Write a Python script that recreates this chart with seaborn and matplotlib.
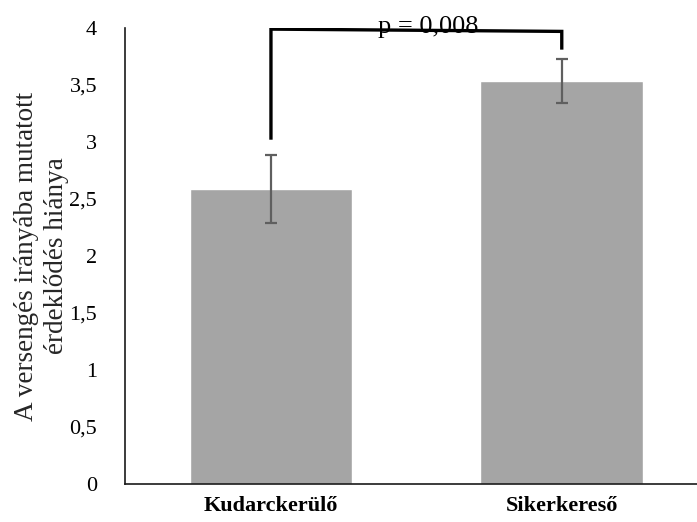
import matplotlib
matplotlib.use("Agg")
import matplotlib.pyplot as plt
import seaborn as sns
import pandas as pd

# Data
categories = ["Kudarckerülő", "Sikerkereső"]
means = [2.59, 3.535]
errors = [0.30, 0.19]
y_ticks = [0, 0.5, 1, 1.5, 2, 2.5, 3, 3.5, 4]
y_tick_labels = ["0", "0,5", "1", "1,5", "2", "2,5", "3", "3,5", "4"]
y_label = "A versengés irányába mutatott\nérdeklődés hiánya"
p_text = "p = 0,008"
bracket_x = [0, 0, 1, 1]
bracket_y = [3.02, 3.99, 3.97, 3.81]

sns.set_theme(style="white")
plt.rcParams["font.family"] = ["Liberation Serif", "DejaVu Serif"]

df = pd.DataFrame({"group": categories, "value": means})

fig = plt.figure(figsize=(6.97, 5.22), dpi=100)
ax = fig.add_axes([0.1793, 0.0728, 0.8207, 0.8736])

sns.barplot(data=df, x="group", y="value", color="#a5a5a5", width=0.56,
            errorbar=None, saturation=1, ax=ax)
ax.errorbar(x=list(range(len(categories))), y=means, yerr=errors, fmt="none",
            ecolor="#5f5f5f", elinewidth=1.6, capsize=4.5, capthick=1.6, zorder=3)

ax.plot(bracket_x, bracket_y, color="black", linewidth=2.4, solid_capstyle="butt",
        solid_joinstyle="miter", zorder=4)
ax.text(0.54, 3.956, p_text, ha="center", va="baseline", fontsize=19, color="black", zorder=5)

ax.set_xlim(-0.502, 1.465)
ax.set_ylim(0, 4)
ax.set_yticks(y_ticks)
ax.set_yticklabels(y_tick_labels, fontsize=16)
ax.set_xlabel("")
ax.set_ylabel(y_label, fontsize=19.5, linespacing=1.3, labelpad=0)
for lbl in ax.get_xticklabels():
    lbl.set_fontweight("bold")
    lbl.set_fontsize(16)
ax.tick_params(axis="y", length=0, pad=20, colors="black")
ax.tick_params(axis="x", length=0, pad=9, colors="black")

for s in ["top", "right"]:
    ax.spines[s].set_visible(False)
for s in ["left", "bottom"]:
    ax.spines[s].set_color("#1a1a1a")
    ax.spines[s].set_linewidth(1.2)

fig.savefig("out.png", dpi=100)
